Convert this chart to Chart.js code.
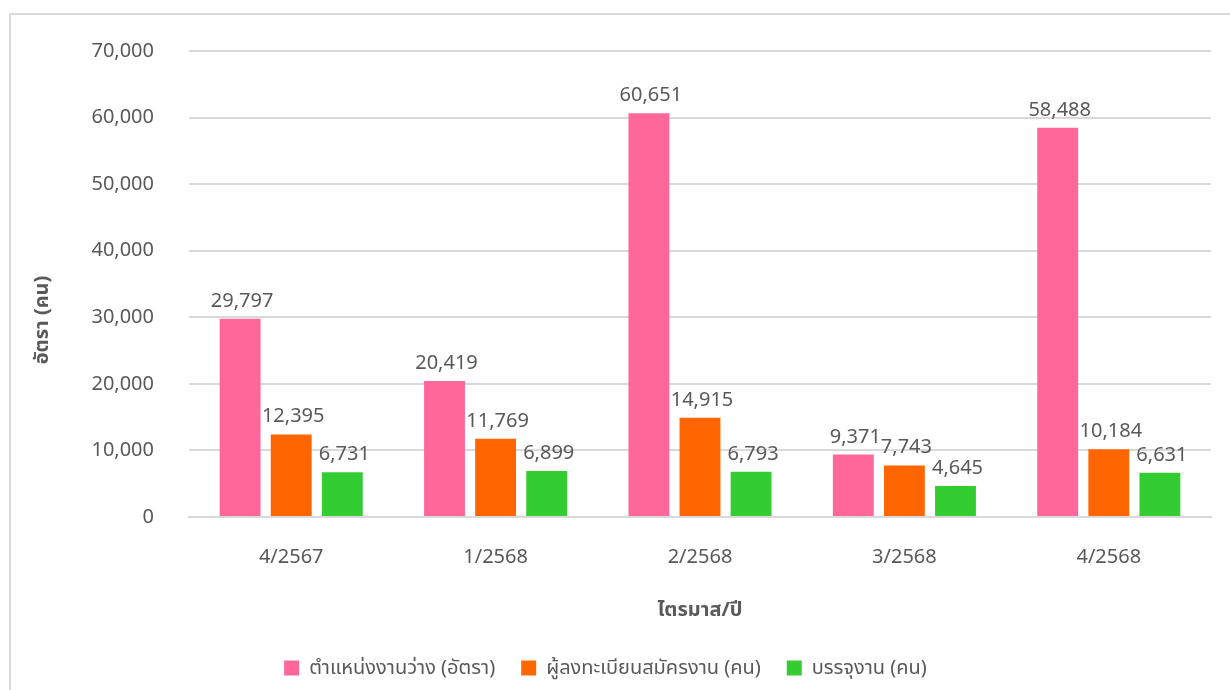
<!DOCTYPE html>
<html>
<head>
<meta charset="utf-8">
<script src="https://cdn.jsdelivr.net/npm/chart.js@4.4.1/dist/chart.umd.min.js"></script>
<style>
  html, body { margin: 0; padding: 0; background: #fff; overflow: hidden; }
  #frame { position: absolute; left: 9px; top: 13px; width: 1240px; height: 700px; border: 2px solid #d9d9d9; box-sizing: border-box; }
  #wrap { position: absolute; left: 0; top: 0; width: 1230px; height: 690px; }
</style>
</head>
<body>
<div id="frame"></div>
<div id="wrap"><canvas id="c" width="1230" height="690"></canvas></div>
<script>
const categories = ['4/2567', '1/2568', '2/2568', '3/2568', '4/2568'];
const seriesNames = ['ตำแหน่งงานว่าง (อัตรา)', 'ผู้ลงทะเบียนสมัครงาน (คน)', 'บรรจุงาน (คน)'];
const vacancies = [29797, 20419, 60651, 9371, 58488];
const applicants = [12395, 11769, 14915, 7743, 10184];
const placements = [6731, 6899, 6793, 4645, 6631];
const yTitle = 'อัตรา (คน)';
const xTitle = 'ไตรมาส/ปี';

const FONT = "'Noto Sans', 'Noto Sans Thai', 'DejaVu Sans', sans-serif";
const TEXT = '#595959';
const colors = ['#FF6699', '#FF6600', '#33CC33'];

const labelPlugin = {
  id: 'barLabels',
  afterDatasetsDraw(chart) {
    const ctx = chart.ctx;
    ctx.save();
    ctx.font = '20px ' + FONT;
    ctx.fillStyle = TEXT;
    ctx.textAlign = 'center';
    ctx.textBaseline = 'alphabetic';
    chart.data.datasets.forEach((ds, i) => {
      const meta = chart.getDatasetMeta(i);
      meta.data.forEach((bar, j) => {
        ctx.fillText(ds.data[j].toLocaleString('en-US'), bar.x + 2, bar.y - 12);
      });
    });
    ctx.restore();
  }
};

const yTitlePlugin = {
  id: 'yTitle',
  afterDraw(chart) {
    const ctx = chart.ctx;
    ctx.save();
    ctx.font = 'bold 20px ' + FONT;
    ctx.fillStyle = TEXT;
    ctx.textAlign = 'center';
    ctx.textBaseline = 'middle';
    ctx.translate(42, 320);
    ctx.rotate(-Math.PI / 2);
    ctx.fillText(yTitle, 0, 0);
    ctx.restore();
  }
};

new Chart(document.getElementById('c'), {
  type: 'bar',
  data: {
    labels: categories,
    datasets: [
      { label: seriesNames[0], data: vacancies, backgroundColor: colors[0] },
      { label: seriesNames[1], data: applicants, backgroundColor: colors[1] },
      { label: seriesNames[2], data: placements, backgroundColor: colors[2] }
    ]
  },
  options: {
    responsive: false,
    animation: false,
    devicePixelRatio: 1,
    categoryPercentage: 0.75,
    barPercentage: 0.8,
    layout: { padding: { left: 0, right: 19, top: 51, bottom: 2 } },
    plugins: {
      legend: {
        position: 'bottom',
        labels: {
          color: TEXT,
          font: { family: FONT, size: 20 },
          boxWidth: 15,
          boxHeight: 15,
          padding: 26
        }
      },
      tooltip: { enabled: false }
    },
    scales: {
      x: {
        grid: { display: false },
        border: { color: '#d9d9d9', width: 2 },
        ticks: { color: TEXT, font: { family: FONT, size: 20 }, padding: 20 },
        title: { display: true, text: xTitle, color: TEXT, font: { family: FONT, size: 20, weight: 'bold' }, padding: { top: 9, bottom: 10 } }
      },
      y: {
        min: 0,
        max: 70000,
        afterFit(scale) { scale.width = 189; },
        grid: { color: '#d9d9d9', lineWidth: 2, drawTicks: false },
        border: { display: false },
        ticks: {
          stepSize: 10000,
          color: TEXT,
          font: { family: FONT, size: 20 },
          padding: 35,
          callback: (v) => v.toLocaleString('en-US')
        }
      }
    }
  },
  plugins: [labelPlugin, yTitlePlugin]
});
</script>
</body>
</html>
